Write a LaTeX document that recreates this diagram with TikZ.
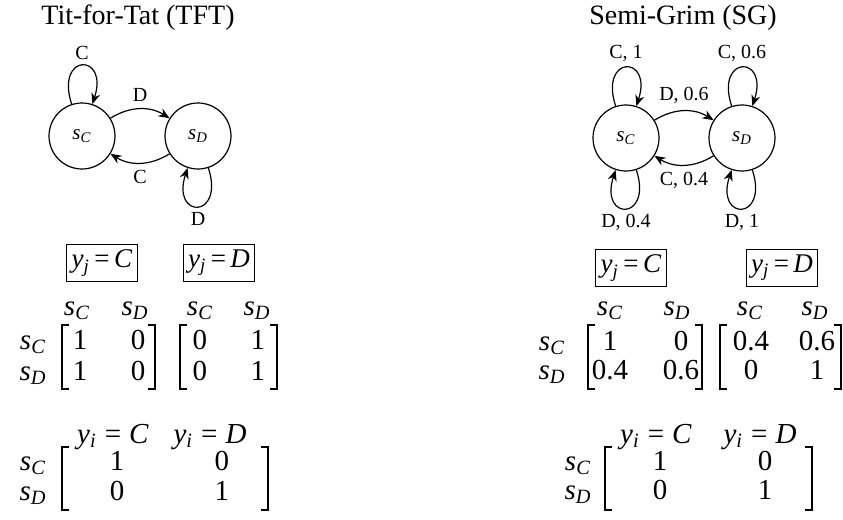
\documentclass[tikz,border=0pt]{standalone}
\usepackage{fontspec}
\setmainfont{Liberation Serif}
\usetikzlibrary{arrows.meta,positioning}

\tikzset{
  >={Stealth[length=5.5pt,width=4.5pt]},
  every node/.style={font=\fontsize{14.5}{17}\selectfont},
  title/.style={font=\fontsize{14}{16}\selectfont},
  statenode/.style={draw,circle,minimum size=33pt,inner sep=0pt,line width=0.6pt,font=\fontsize{10.5}{12}\selectfont},
  arc/.style={->,line width=0.6pt},
  selfloop/.style={->,line width=0.6pt,distance=27pt},
  edgelabel/.style={font=\fontsize{10}{12}\selectfont,inner sep=2.5pt},
  ybox/.style={draw,line width=0.5pt,inner sep=2.5pt,font=\fontsize{13.5}{16}\selectfont},
  cell/.style={text height=10pt,text depth=3pt,inner sep=0pt},
  brk/.style={line width=0.6pt},
}
\newcommand{\sv}[1]{\textit{s}\textsubscript{\textit{#1}}}
\newcommand{\yv}[3][\;]{\textit{y}\textsubscript{\textit{#2}}#1=#1\textit{#3}}

\begin{document}
\begin{tikzpicture}[x=0.5pt,y=0.5pt]
  \useasboundingbox (0,0) rectangle (843,-520);

  % Tit-for-Tat
  \node[title] (tfttitle) at (138,-18) {Tit-for-Tat (TFT)};
  \node[statenode] (tsc) at (82,-136) {\sv{C}};
  \node[statenode] (tsd) at (198,-136) {\sv{D}};
  \draw[selfloop] (tsc) to[out=108,in=72] node[edgelabel,above] {C} (tsc);
  \draw[arc] (tsc) to[bend left=32] node[edgelabel,above=1pt] {D} (tsd);
  \draw[arc] (tsd) to[bend left=32] node[edgelabel,below=1pt] {C} (tsc);
  \draw[selfloop] (tsd) to[out=-72,in=-108] node[edgelabel,below] {D} (tsd);

  \node[ybox] (tyc) at (102,-263) {\yv[\,]{j}{C}};
  \node[ybox] (tyd) at (219,-263) {\yv[\,]{j}{D}};
  \node[cell] (th1) at (77,-308) {\sv{C}};
  \node[cell] (th2) at (135,-308) {\sv{D}};
  \node[cell] (th3) at (200,-308) {\sv{C}};
  \node[cell] (th4) at (257,-308) {\sv{D}};
  \node[cell] (tr1) at (33,-342) {\sv{C}};
  \node[cell] (tr2) at (33,-373) {\sv{D}};
  \node[cell] (ta11) at (80,-342) {1};
  \node[cell] (ta12) at (138,-342) {0};
  \node[cell] (ta21) at (80,-373) {1};
  \node[cell] (ta22) at (138,-373) {0};
  \node[cell] (tb11) at (200,-342) {0};
  \node[cell] (tb12) at (258,-342) {1};
  \node[cell] (tb21) at (200,-373) {0};
  \node[cell] (tb22) at (258,-373) {1};
  \draw[brk] (69,-325) -- (62,-325) -- (62,-389) -- (69,-389);
  \draw[brk] (148,-325) -- (155,-325) -- (155,-389) -- (148,-389);
  \draw[brk] (187,-325) -- (180,-325) -- (180,-389) -- (187,-389);
  \draw[brk] (270,-325) -- (277,-325) -- (277,-389) -- (270,-389);

  \node[cell] (tc1) at (113,-436) {\yv{i}{C}};
  \node[cell] (tc2) at (210,-436) {\yv{i}{D}};
  \node[cell] (tq1) at (33,-463) {\sv{C}};
  \node[cell] (tq2) at (33,-493) {\sv{D}};
  \node[cell] (tp11) at (117,-463) {1};
  \node[cell] (tp12) at (222,-463) {0};
  \node[cell] (tp21) at (117,-493) {0};
  \node[cell] (tp22) at (222,-493) {1};
  \draw[brk] (69,-447) -- (62,-447) -- (62,-510) -- (69,-510);
  \draw[brk] (261,-447) -- (268,-447) -- (268,-510) -- (261,-510);

  % Semi-Grim
  \node[title] (sgtitle) at (683,-18) {Semi-Grim (SG)};
  \node[statenode] (gsc) at (626,-138) {\sv{C}};
  \node[statenode] (gsd) at (742,-138) {\sv{D}};
  \draw[selfloop] (gsc) to[out=108,in=72] node[edgelabel,above] {C, 1} (gsc);
  \draw[selfloop] (gsd) to[out=108,in=72] node[edgelabel,above] {C, 0.6} (gsd);
  \draw[arc] (gsc) to[bend left=32] node[edgelabel,above=1pt] {D, 0.6} (gsd);
  \draw[arc] (gsd) to[bend left=32] node[edgelabel,below=1pt] {C, 0.4} (gsc);
  \draw[selfloop] (gsc) to[out=-72,in=-108] node[edgelabel,below] {D, 0.4} (gsc);
  \draw[selfloop] (gsd) to[out=-72,in=-108] node[edgelabel,below] {D, 1} (gsd);

  \node[ybox] (gyc) at (631,-268) {\yv[\,]{j}{C}};
  \node[ybox] (gyd) at (782,-268) {\yv[\,]{j}{D}};
  \node[cell] (gh1) at (610,-308) {\sv{C}};
  \node[cell] (gh2) at (677,-308) {\sv{D}};
  \node[cell] (gh3) at (750,-308) {\sv{C}};
  \node[cell] (gh4) at (815,-308) {\sv{D}};
  \node[cell] (gr1) at (552,-343) {\sv{C}};
  \node[cell] (gr2) at (552,-372) {\sv{D}};
  \node[cell] (ga11) at (610,-343) {1};
  \node[cell] (ga12) at (681,-343) {0};
  \node[cell] (ga21) at (610,-372) {0.4};
  \node[cell] (ga22) at (681,-372) {0.6};
  \node[cell] (gb11) at (751,-343) {0.4};
  \node[cell] (gb12) at (817,-343) {0.6};
  \node[cell] (gb21) at (751,-372) {0};
  \node[cell] (gb22) at (817,-372) {1};
  \draw[brk] (595,-325) -- (588,-325) -- (588,-389) -- (595,-389);
  \draw[brk] (695,-325) -- (702,-325) -- (702,-389) -- (695,-389);
  \draw[brk] (727,-325) -- (720,-325) -- (720,-389) -- (727,-389);
  \draw[brk] (834,-325) -- (841,-325) -- (841,-389) -- (834,-389);

  \node[cell] (gc1) at (656,-436) {\yv{i}{C}};
  \node[cell] (gc2) at (760,-436) {\yv{i}{D}};
  \node[cell] (gq1) at (578,-463) {\sv{C}};
  \node[cell] (gq2) at (578,-492) {\sv{D}};
  \node[cell] (gp11) at (660,-463) {1};
  \node[cell] (gp12) at (765,-463) {0};
  \node[cell] (gp21) at (660,-492) {0};
  \node[cell] (gp22) at (765,-492) {1};
  \draw[brk] (612,-447) -- (605,-447) -- (605,-510) -- (612,-510);
  \draw[brk] (805,-447) -- (812,-447) -- (812,-510) -- (805,-510);
\end{tikzpicture}
\end{document}
